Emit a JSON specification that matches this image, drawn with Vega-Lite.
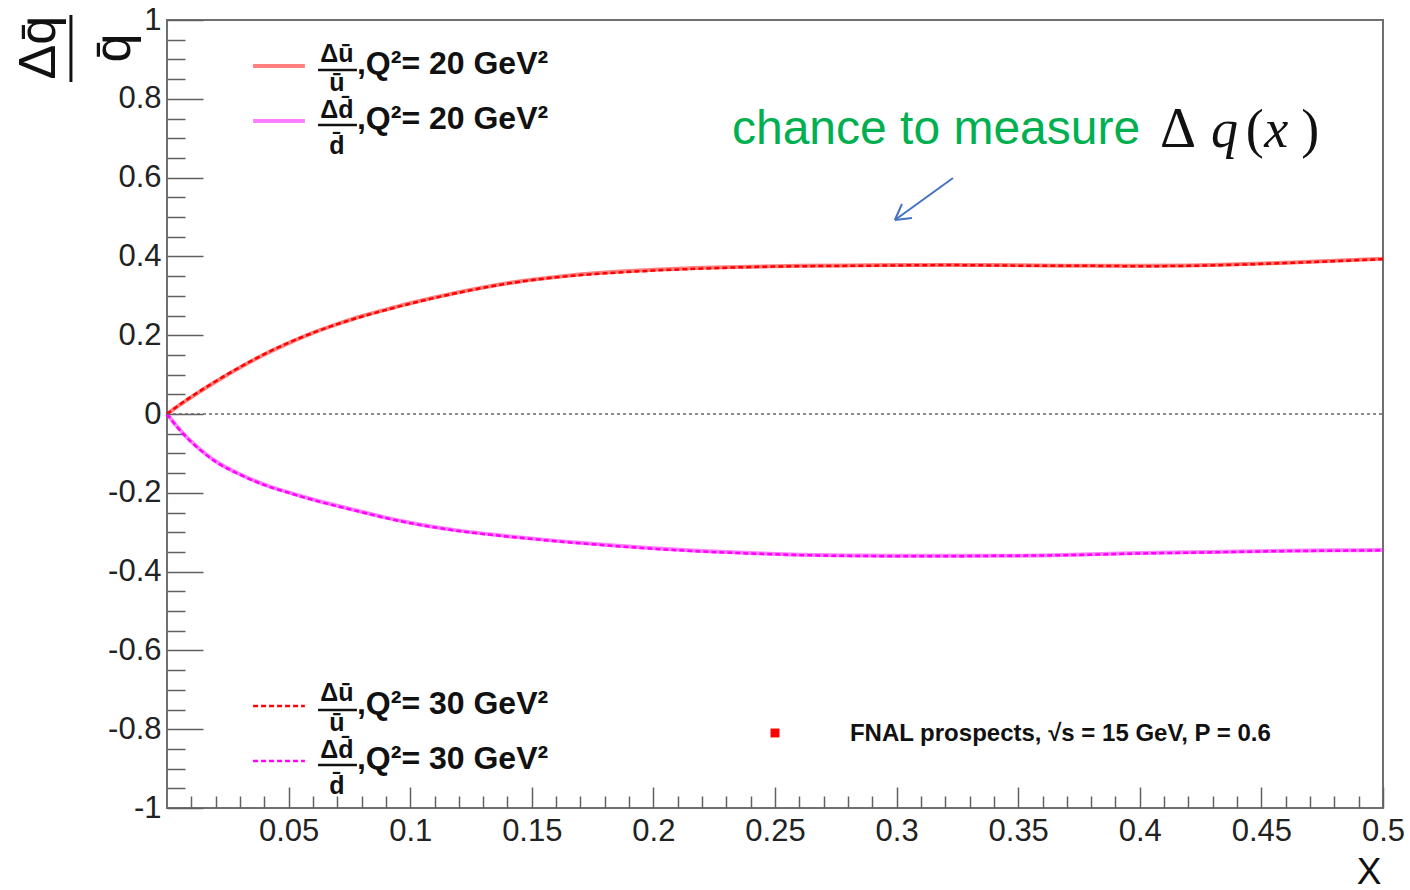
{
  "$schema": "https://vega.github.io/schema/vega-lite/v6.json",
  "width": 1216,
  "height": 788,
  "autosize": {"type": "none"},
  "padding": {"left": 167, "top": 20, "right": 27, "bottom": 82},
  "background": "white",
  "config": {
    "view": {"stroke": "#707070", "strokeWidth": 2},
    "text": {"font": "Liberation Sans", "fontWeight": "bold", "fontSize": 32, "align": "left", "baseline": "middle", "color": "#111111"}
  },
  "data": {"values": [{}]},
  "datasets": {
    "curves": [
      {"flavor": "u", "Q2": 20, "x": 0, "ratio": 0},
      {"flavor": "u", "Q2": 20, "x": 0.005, "ratio": 0.022},
      {"flavor": "u", "Q2": 20, "x": 0.01, "ratio": 0.043},
      {"flavor": "u", "Q2": 20, "x": 0.02, "ratio": 0.082},
      {"flavor": "u", "Q2": 20, "x": 0.03, "ratio": 0.118},
      {"flavor": "u", "Q2": 20, "x": 0.04, "ratio": 0.151},
      {"flavor": "u", "Q2": 20, "x": 0.05, "ratio": 0.18},
      {"flavor": "u", "Q2": 20, "x": 0.06, "ratio": 0.206},
      {"flavor": "u", "Q2": 20, "x": 0.07, "ratio": 0.228},
      {"flavor": "u", "Q2": 20, "x": 0.08, "ratio": 0.248},
      {"flavor": "u", "Q2": 20, "x": 0.09, "ratio": 0.265},
      {"flavor": "u", "Q2": 20, "x": 0.1, "ratio": 0.281},
      {"flavor": "u", "Q2": 20, "x": 0.12, "ratio": 0.309},
      {"flavor": "u", "Q2": 20, "x": 0.14, "ratio": 0.332},
      {"flavor": "u", "Q2": 20, "x": 0.16, "ratio": 0.348},
      {"flavor": "u", "Q2": 20, "x": 0.18, "ratio": 0.359},
      {"flavor": "u", "Q2": 20, "x": 0.2, "ratio": 0.366},
      {"flavor": "u", "Q2": 20, "x": 0.22, "ratio": 0.371},
      {"flavor": "u", "Q2": 20, "x": 0.24, "ratio": 0.374},
      {"flavor": "u", "Q2": 20, "x": 0.26, "ratio": 0.376},
      {"flavor": "u", "Q2": 20, "x": 0.28, "ratio": 0.377},
      {"flavor": "u", "Q2": 20, "x": 0.3, "ratio": 0.378},
      {"flavor": "u", "Q2": 20, "x": 0.32, "ratio": 0.378},
      {"flavor": "u", "Q2": 20, "x": 0.34, "ratio": 0.378},
      {"flavor": "u", "Q2": 20, "x": 0.36, "ratio": 0.377},
      {"flavor": "u", "Q2": 20, "x": 0.38, "ratio": 0.376},
      {"flavor": "u", "Q2": 20, "x": 0.4, "ratio": 0.376},
      {"flavor": "u", "Q2": 20, "x": 0.42, "ratio": 0.377},
      {"flavor": "u", "Q2": 20, "x": 0.44, "ratio": 0.38},
      {"flavor": "u", "Q2": 20, "x": 0.46, "ratio": 0.384},
      {"flavor": "u", "Q2": 20, "x": 0.48, "ratio": 0.389},
      {"flavor": "u", "Q2": 20, "x": 0.5, "ratio": 0.394},

      {"flavor": "u", "Q2": 30, "x": 0, "ratio": 0},
      {"flavor": "u", "Q2": 30, "x": 0.005, "ratio": 0.023},
      {"flavor": "u", "Q2": 30, "x": 0.01, "ratio": 0.044},
      {"flavor": "u", "Q2": 30, "x": 0.02, "ratio": 0.083},
      {"flavor": "u", "Q2": 30, "x": 0.03, "ratio": 0.119},
      {"flavor": "u", "Q2": 30, "x": 0.04, "ratio": 0.152},
      {"flavor": "u", "Q2": 30, "x": 0.05, "ratio": 0.181},
      {"flavor": "u", "Q2": 30, "x": 0.06, "ratio": 0.206},
      {"flavor": "u", "Q2": 30, "x": 0.07, "ratio": 0.228},
      {"flavor": "u", "Q2": 30, "x": 0.08, "ratio": 0.247},
      {"flavor": "u", "Q2": 30, "x": 0.09, "ratio": 0.264},
      {"flavor": "u", "Q2": 30, "x": 0.1, "ratio": 0.28},
      {"flavor": "u", "Q2": 30, "x": 0.12, "ratio": 0.308},
      {"flavor": "u", "Q2": 30, "x": 0.14, "ratio": 0.331},
      {"flavor": "u", "Q2": 30, "x": 0.16, "ratio": 0.347},
      {"flavor": "u", "Q2": 30, "x": 0.18, "ratio": 0.357},
      {"flavor": "u", "Q2": 30, "x": 0.2, "ratio": 0.364},
      {"flavor": "u", "Q2": 30, "x": 0.22, "ratio": 0.369},
      {"flavor": "u", "Q2": 30, "x": 0.24, "ratio": 0.373},
      {"flavor": "u", "Q2": 30, "x": 0.26, "ratio": 0.375},
      {"flavor": "u", "Q2": 30, "x": 0.28, "ratio": 0.376},
      {"flavor": "u", "Q2": 30, "x": 0.3, "ratio": 0.377},
      {"flavor": "u", "Q2": 30, "x": 0.32, "ratio": 0.378},
      {"flavor": "u", "Q2": 30, "x": 0.34, "ratio": 0.377},
      {"flavor": "u", "Q2": 30, "x": 0.36, "ratio": 0.376},
      {"flavor": "u", "Q2": 30, "x": 0.38, "ratio": 0.376},
      {"flavor": "u", "Q2": 30, "x": 0.4, "ratio": 0.375},
      {"flavor": "u", "Q2": 30, "x": 0.42, "ratio": 0.376},
      {"flavor": "u", "Q2": 30, "x": 0.44, "ratio": 0.379},
      {"flavor": "u", "Q2": 30, "x": 0.46, "ratio": 0.383},
      {"flavor": "u", "Q2": 30, "x": 0.48, "ratio": 0.388},
      {"flavor": "u", "Q2": 30, "x": 0.5, "ratio": 0.393},

      {"flavor": "d", "Q2": 20, "x": 0, "ratio": 0},
      {"flavor": "d", "Q2": 20, "x": 0.005, "ratio": -0.038},
      {"flavor": "d", "Q2": 20, "x": 0.01, "ratio": -0.07},
      {"flavor": "d", "Q2": 20, "x": 0.015, "ratio": -0.097},
      {"flavor": "d", "Q2": 20, "x": 0.02, "ratio": -0.12},
      {"flavor": "d", "Q2": 20, "x": 0.03, "ratio": -0.153},
      {"flavor": "d", "Q2": 20, "x": 0.04, "ratio": -0.179},
      {"flavor": "d", "Q2": 20, "x": 0.05, "ratio": -0.199},
      {"flavor": "d", "Q2": 20, "x": 0.06, "ratio": -0.217},
      {"flavor": "d", "Q2": 20, "x": 0.07, "ratio": -0.233},
      {"flavor": "d", "Q2": 20, "x": 0.08, "ratio": -0.248},
      {"flavor": "d", "Q2": 20, "x": 0.09, "ratio": -0.263},
      {"flavor": "d", "Q2": 20, "x": 0.1, "ratio": -0.276},
      {"flavor": "d", "Q2": 20, "x": 0.12, "ratio": -0.296},
      {"flavor": "d", "Q2": 20, "x": 0.14, "ratio": -0.31},
      {"flavor": "d", "Q2": 20, "x": 0.16, "ratio": -0.322},
      {"flavor": "d", "Q2": 20, "x": 0.18, "ratio": -0.332},
      {"flavor": "d", "Q2": 20, "x": 0.2, "ratio": -0.341},
      {"flavor": "d", "Q2": 20, "x": 0.22, "ratio": -0.348},
      {"flavor": "d", "Q2": 20, "x": 0.24, "ratio": -0.353},
      {"flavor": "d", "Q2": 20, "x": 0.26, "ratio": -0.357},
      {"flavor": "d", "Q2": 20, "x": 0.28, "ratio": -0.359},
      {"flavor": "d", "Q2": 20, "x": 0.3, "ratio": -0.36},
      {"flavor": "d", "Q2": 20, "x": 0.32, "ratio": -0.36},
      {"flavor": "d", "Q2": 20, "x": 0.34, "ratio": -0.36},
      {"flavor": "d", "Q2": 20, "x": 0.36, "ratio": -0.359},
      {"flavor": "d", "Q2": 20, "x": 0.38, "ratio": -0.356},
      {"flavor": "d", "Q2": 20, "x": 0.4, "ratio": -0.353},
      {"flavor": "d", "Q2": 20, "x": 0.42, "ratio": -0.351},
      {"flavor": "d", "Q2": 20, "x": 0.44, "ratio": -0.349},
      {"flavor": "d", "Q2": 20, "x": 0.46, "ratio": -0.347},
      {"flavor": "d", "Q2": 20, "x": 0.48, "ratio": -0.346},
      {"flavor": "d", "Q2": 20, "x": 0.5, "ratio": -0.345},

      {"flavor": "d", "Q2": 30, "x": 0, "ratio": 0},
      {"flavor": "d", "Q2": 30, "x": 0.005, "ratio": -0.039},
      {"flavor": "d", "Q2": 30, "x": 0.01, "ratio": -0.071},
      {"flavor": "d", "Q2": 30, "x": 0.015, "ratio": -0.098},
      {"flavor": "d", "Q2": 30, "x": 0.02, "ratio": -0.121},
      {"flavor": "d", "Q2": 30, "x": 0.03, "ratio": -0.154},
      {"flavor": "d", "Q2": 30, "x": 0.04, "ratio": -0.18},
      {"flavor": "d", "Q2": 30, "x": 0.05, "ratio": -0.2},
      {"flavor": "d", "Q2": 30, "x": 0.06, "ratio": -0.218},
      {"flavor": "d", "Q2": 30, "x": 0.07, "ratio": -0.234},
      {"flavor": "d", "Q2": 30, "x": 0.08, "ratio": -0.249},
      {"flavor": "d", "Q2": 30, "x": 0.09, "ratio": -0.264},
      {"flavor": "d", "Q2": 30, "x": 0.1, "ratio": -0.277},
      {"flavor": "d", "Q2": 30, "x": 0.12, "ratio": -0.297},
      {"flavor": "d", "Q2": 30, "x": 0.14, "ratio": -0.311},
      {"flavor": "d", "Q2": 30, "x": 0.16, "ratio": -0.323},
      {"flavor": "d", "Q2": 30, "x": 0.18, "ratio": -0.333},
      {"flavor": "d", "Q2": 30, "x": 0.2, "ratio": -0.342},
      {"flavor": "d", "Q2": 30, "x": 0.22, "ratio": -0.349},
      {"flavor": "d", "Q2": 30, "x": 0.24, "ratio": -0.354},
      {"flavor": "d", "Q2": 30, "x": 0.26, "ratio": -0.358},
      {"flavor": "d", "Q2": 30, "x": 0.28, "ratio": -0.36},
      {"flavor": "d", "Q2": 30, "x": 0.3, "ratio": -0.361},
      {"flavor": "d", "Q2": 30, "x": 0.32, "ratio": -0.361},
      {"flavor": "d", "Q2": 30, "x": 0.34, "ratio": -0.36},
      {"flavor": "d", "Q2": 30, "x": 0.36, "ratio": -0.359},
      {"flavor": "d", "Q2": 30, "x": 0.38, "ratio": -0.357},
      {"flavor": "d", "Q2": 30, "x": 0.4, "ratio": -0.354},
      {"flavor": "d", "Q2": 30, "x": 0.42, "ratio": -0.352},
      {"flavor": "d", "Q2": 30, "x": 0.44, "ratio": -0.35},
      {"flavor": "d", "Q2": 30, "x": 0.46, "ratio": -0.348},
      {"flavor": "d", "Q2": 30, "x": 0.48, "ratio": -0.347},
      {"flavor": "d", "Q2": 30, "x": 0.5, "ratio": -0.346}
    ]
  },
  "resolve": {"axis": {"x": "independent", "y": "independent"}},
  "layer": [
    {
      "data": {"name": "curves"},
      "transform": [{"filter": "datum.Q2 == 20"}],
      "mark": {"type": "line", "strokeWidth": 4, "opacity": 0.5, "interpolate": "monotone"},
      "encoding": {
        "x": {
          "field": "x", "type": "quantitative",
          "scale": {"domain": [0, 0.5], "nice": false, "zero": false},
          "axis": {
            "orient": "bottom", "offset": -21, "tickSize": 21, "tickWidth": 1.5, "tickColor": "#606060",
            "domain": false, "grid": false,
            "values": [0.05, 0.1, 0.15, 0.2, 0.25, 0.3, 0.35, 0.4, 0.45, 0.5],
            "format": "~g", "labelFlush": false, "labelOverlap": false,
            "labelFont": "Liberation Sans", "labelFontSize": 31, "labelColor": "#222222", "labelPadding": 8,
            "title": "X", "titleFont": "Liberation Sans", "titleFontSize": 37, "titleFontWeight": "normal",
            "titleColor": "#111111", "titleAnchor": "end", "titleAlign": "right", "titleBaseline": "alphabetic",
            "titleX": 1214, "titleY": 96
          }
        },
        "y": {
          "field": "ratio", "type": "quantitative",
          "scale": {"domain": [-1, 1], "nice": false, "zero": false},
          "axis": {
            "orient": "left", "offset": -36, "tickSize": 36, "tickWidth": 1.5, "tickColor": "#606060",
            "domain": false, "grid": false,
            "values": [-1, -0.8, -0.6, -0.4, -0.2, 0, 0.2, 0.4, 0.6, 0.8, 1],
            "labelExpr": "datum.value < 0 ? '-' + format(-datum.value, '~g') : format(datum.value, '~g')",
            "labelFlush": false, "labelOverlap": false,
            "labelFont": "Liberation Sans", "labelFontSize": 31, "labelColor": "#222222", "labelPadding": 6,
            "title": null
          }
        },
        "color": {"field": "flavor", "type": "nominal", "scale": {"domain": ["u", "d"], "range": ["#ff0000", "#ff00ff"]}, "legend": null}
      }
    },
    {
      "data": {"name": "curves"},
      "transform": [{"filter": "datum.Q2 == 30"}],
      "mark": {"type": "line", "strokeWidth": 2.5, "strokeDash": [5, 3], "interpolate": "monotone"},
      "encoding": {
        "x": {"field": "x", "type": "quantitative", "axis": null},
        "y": {"field": "ratio", "type": "quantitative", "axis": null},
        "color": {"field": "flavor", "type": "nominal", "legend": null}
      }
    },
    {
      "data": {"values": [{"x": 0, "ratio": 0}, {"x": 0.5, "ratio": 0}]},
      "mark": {"type": "line", "strokeDash": [3, 3], "color": "#666666", "strokeWidth": 1.5},
      "encoding": {
        "x": {
          "field": "x", "type": "quantitative",
          "axis": {
            "orient": "bottom", "offset": -12, "tickSize": 12, "tickWidth": 1.5, "tickColor": "#606060",
            "domain": false, "grid": false, "labels": false, "title": null,
            "values": [0.01, 0.02, 0.03, 0.04, 0.06, 0.07, 0.08, 0.09, 0.11, 0.12, 0.13, 0.14, 0.16, 0.17, 0.18, 0.19, 0.21, 0.22, 0.23, 0.24, 0.26, 0.27, 0.28, 0.29, 0.31, 0.32, 0.33, 0.34, 0.36, 0.37, 0.38, 0.39, 0.41, 0.42, 0.43, 0.44, 0.46, 0.47, 0.48, 0.49]
          }
        },
        "y": {
          "field": "ratio", "type": "quantitative",
          "axis": {
            "orient": "left", "offset": -18, "tickSize": 18, "tickWidth": 1.5, "tickColor": "#606060",
            "domain": false, "grid": false, "labels": false, "title": null,
            "values": [-0.95, -0.9, -0.85, -0.75, -0.7, -0.65, -0.55, -0.5, -0.45, -0.35, -0.3, -0.25, -0.15, -0.1, -0.05, 0.05, 0.1, 0.15, 0.25, 0.3, 0.35, 0.45, 0.5, 0.55, 0.65, 0.7, 0.75, 0.85, 0.9, 0.95]
          }
        }
      }
    },

    {"mark": {"type": "text", "text": "Δq̄", "angle": 270, "align": "center", "fontWeight": "normal", "fontSize": 52},
     "encoding": {"x": {"datum": -0.0525, "type": "quantitative", "axis": null}, "y": {"datum": 0.93, "type": "quantitative", "axis": null}}},
    {"mark": {"type": "rule", "color": "#111111", "strokeWidth": 3},
     "encoding": {"x": {"datum": -0.0395, "type": "quantitative", "axis": null}, "y": {"datum": 1.0127, "type": "quantitative", "axis": null}, "y2": {"datum": 0.8426}}},
    {"mark": {"type": "text", "text": "q̄", "angle": 270, "align": "center", "fontWeight": "normal", "fontSize": 52},
     "encoding": {"x": {"datum": -0.0218, "type": "quantitative", "axis": null}, "y": {"datum": 0.929, "type": "quantitative", "axis": null}}},

    {"mark": {"type": "rule", "color": "#ff0000", "opacity": 0.5, "strokeWidth": 4},
     "encoding": {"x": {"datum": 0.0354, "type": "quantitative", "axis": null}, "x2": {"datum": 0.0567}, "y": {"datum": 0.8832, "type": "quantitative", "axis": null}}},
    {"mark": {"type": "text", "text": "Δū", "align": "center", "fontSize": 25},
     "encoding": {"x": {"datum": 0.0699, "type": "quantitative", "axis": null}, "y": {"datum": 0.9137, "type": "quantitative", "axis": null}}},
    {"mark": {"type": "rule", "color": "#111111", "strokeWidth": 2.5},
     "encoding": {"x": {"datum": 0.0621, "type": "quantitative", "axis": null}, "x2": {"datum": 0.0781}, "y": {"datum": 0.8731, "type": "quantitative", "axis": null}}},
    {"mark": {"type": "text", "text": "ū", "align": "center", "fontSize": 25},
     "encoding": {"x": {"datum": 0.0699, "type": "quantitative", "axis": null}, "y": {"datum": 0.8401, "type": "quantitative", "axis": null}}},
    {"mark": {"type": "text", "text": ",Q²= 20 GeV²"},
     "encoding": {"x": {"datum": 0.0781, "type": "quantitative", "axis": null}, "y": {"datum": 0.8883, "type": "quantitative", "axis": null}}},

    {"mark": {"type": "rule", "color": "#ff00ff", "opacity": 0.5, "strokeWidth": 4},
     "encoding": {"x": {"datum": 0.0354, "type": "quantitative", "axis": null}, "x2": {"datum": 0.0567}, "y": {"datum": 0.7437, "type": "quantitative", "axis": null}}},
    {"mark": {"type": "text", "text": "Δd̄", "align": "center", "fontSize": 25},
     "encoding": {"x": {"datum": 0.0699, "type": "quantitative", "axis": null}, "y": {"datum": 0.7716, "type": "quantitative", "axis": null}}},
    {"mark": {"type": "rule", "color": "#111111", "strokeWidth": 2.5},
     "encoding": {"x": {"datum": 0.0621, "type": "quantitative", "axis": null}, "x2": {"datum": 0.0781}, "y": {"datum": 0.7335, "type": "quantitative", "axis": null}}},
    {"mark": {"type": "text", "text": "d̄", "align": "center", "fontSize": 25},
     "encoding": {"x": {"datum": 0.0699, "type": "quantitative", "axis": null}, "y": {"datum": 0.6802, "type": "quantitative", "axis": null}}},
    {"mark": {"type": "text", "text": ",Q²= 20 GeV²"},
     "encoding": {"x": {"datum": 0.0781, "type": "quantitative", "axis": null}, "y": {"datum": 0.7487, "type": "quantitative", "axis": null}}},

    {"mark": {"type": "rule", "color": "#ff0000", "strokeWidth": 2.5, "strokeDash": [5, 3]},
     "encoding": {"x": {"datum": 0.0354, "type": "quantitative", "axis": null}, "x2": {"datum": 0.0567}, "y": {"datum": -0.7411, "type": "quantitative", "axis": null}}},
    {"mark": {"type": "text", "text": "Δū", "align": "center", "fontSize": 25},
     "encoding": {"x": {"datum": 0.0699, "type": "quantitative", "axis": null}, "y": {"datum": -0.7081, "type": "quantitative", "axis": null}}},
    {"mark": {"type": "rule", "color": "#111111", "strokeWidth": 2.5},
     "encoding": {"x": {"datum": 0.0621, "type": "quantitative", "axis": null}, "x2": {"datum": 0.0781}, "y": {"datum": -0.7513, "type": "quantitative", "axis": null}}},
    {"mark": {"type": "text", "text": "ū", "align": "center", "fontSize": 25},
     "encoding": {"x": {"datum": 0.0699, "type": "quantitative", "axis": null}, "y": {"datum": -0.7843, "type": "quantitative", "axis": null}}},
    {"mark": {"type": "text", "text": ",Q²= 30 GeV²"},
     "encoding": {"x": {"datum": 0.0781, "type": "quantitative", "axis": null}, "y": {"datum": -0.736, "type": "quantitative", "axis": null}}},

    {"mark": {"type": "rule", "color": "#ff00ff", "strokeWidth": 2.5, "strokeDash": [5, 3]},
     "encoding": {"x": {"datum": 0.0354, "type": "quantitative", "axis": null}, "x2": {"datum": 0.0567}, "y": {"datum": -0.8807, "type": "quantitative", "axis": null}}},
    {"mark": {"type": "text", "text": "Δd̄", "align": "center", "fontSize": 25},
     "encoding": {"x": {"datum": 0.0699, "type": "quantitative", "axis": null}, "y": {"datum": -0.8528, "type": "quantitative", "axis": null}}},
    {"mark": {"type": "rule", "color": "#111111", "strokeWidth": 2.5},
     "encoding": {"x": {"datum": 0.0621, "type": "quantitative", "axis": null}, "x2": {"datum": 0.0781}, "y": {"datum": -0.8909, "type": "quantitative", "axis": null}}},
    {"mark": {"type": "text", "text": "d̄", "align": "center", "fontSize": 25},
     "encoding": {"x": {"datum": 0.0699, "type": "quantitative", "axis": null}, "y": {"datum": -0.9442, "type": "quantitative", "axis": null}}},
    {"mark": {"type": "text", "text": ",Q²= 30 GeV²"},
     "encoding": {"x": {"datum": 0.0781, "type": "quantitative", "axis": null}, "y": {"datum": -0.8756, "type": "quantitative", "axis": null}}},

    {"mark": {"type": "point", "shape": "square", "filled": true, "color": "#ff0000", "size": 80, "opacity": 1},
     "encoding": {"x": {"datum": 0.25, "type": "quantitative", "axis": null}, "y": {"datum": -0.8096, "type": "quantitative", "axis": null}}},
    {"mark": {"type": "text", "text": "FNAL prospects, √s = 15 GeV, P = 0.6", "fontSize": 24},
     "encoding": {"x": {"datum": 0.2808, "type": "quantitative", "axis": null}, "y": {"datum": -0.8122, "type": "quantitative", "axis": null}}},

    {"mark": {"type": "text", "text": "chance to measure", "fontWeight": "normal", "fontSize": 48, "color": "#00b050", "baseline": "alphabetic"},
     "encoding": {"x": {"datum": 0.2323, "type": "quantitative", "axis": null}, "y": {"datum": 0.6853, "type": "quantitative", "axis": null}}},
    {"mark": {"type": "text", "text": "Δ", "font": "Liberation Serif", "fontWeight": "normal", "fontSize": 56, "color": "#111111", "baseline": "alphabetic"},
     "encoding": {"x": {"datum": 0.4083, "type": "quantitative", "axis": null}, "y": {"datum": 0.6777, "type": "quantitative", "axis": null}}},
    {"mark": {"type": "text", "text": "q", "font": "Liberation Serif", "fontStyle": "italic", "fontWeight": "normal", "fontSize": 54, "color": "#111111", "baseline": "alphabetic"},
     "encoding": {"x": {"datum": 0.4293, "type": "quantitative", "axis": null}, "y": {"datum": 0.6777, "type": "quantitative", "axis": null}}},
    {"mark": {"type": "text", "text": "(", "font": "Liberation Serif", "fontWeight": "normal", "fontSize": 54, "color": "#111111", "baseline": "alphabetic"},
     "encoding": {"x": {"datum": 0.4436, "type": "quantitative", "axis": null}, "y": {"datum": 0.6777, "type": "quantitative", "axis": null}}},
    {"mark": {"type": "text", "text": "x", "font": "Liberation Serif", "fontStyle": "italic", "fontWeight": "normal", "fontSize": 54, "color": "#111111", "baseline": "alphabetic"},
     "encoding": {"x": {"datum": 0.4512, "type": "quantitative", "axis": null}, "y": {"datum": 0.6777, "type": "quantitative", "axis": null}}},
    {"mark": {"type": "text", "text": ")", "font": "Liberation Serif", "fontWeight": "normal", "fontSize": 54, "color": "#111111", "baseline": "alphabetic"},
     "encoding": {"x": {"datum": 0.4664, "type": "quantitative", "axis": null}, "y": {"datum": 0.6777, "type": "quantitative", "axis": null}}},

    {"mark": {"type": "rule", "color": "#4472c4", "strokeWidth": 2},
     "encoding": {"x": {"datum": 0.3232, "type": "quantitative", "axis": null}, "y": {"datum": 0.599, "type": "quantitative", "axis": null}, "x2": {"datum": 0.2993}, "y2": {"datum": 0.4924}}},
    {"mark": {"type": "rule", "color": "#4472c4", "strokeWidth": 2},
     "encoding": {"x": {"datum": 0.2993, "type": "quantitative", "axis": null}, "y": {"datum": 0.4924, "type": "quantitative", "axis": null}, "x2": {"datum": 0.3063}, "y2": {"datum": 0.4975}}},
    {"mark": {"type": "rule", "color": "#4472c4", "strokeWidth": 2},
     "encoding": {"x": {"datum": 0.2993, "type": "quantitative", "axis": null}, "y": {"datum": 0.4924, "type": "quantitative", "axis": null}, "x2": {"datum": 0.3022}, "y2": {"datum": 0.533}}}
  ]
}
